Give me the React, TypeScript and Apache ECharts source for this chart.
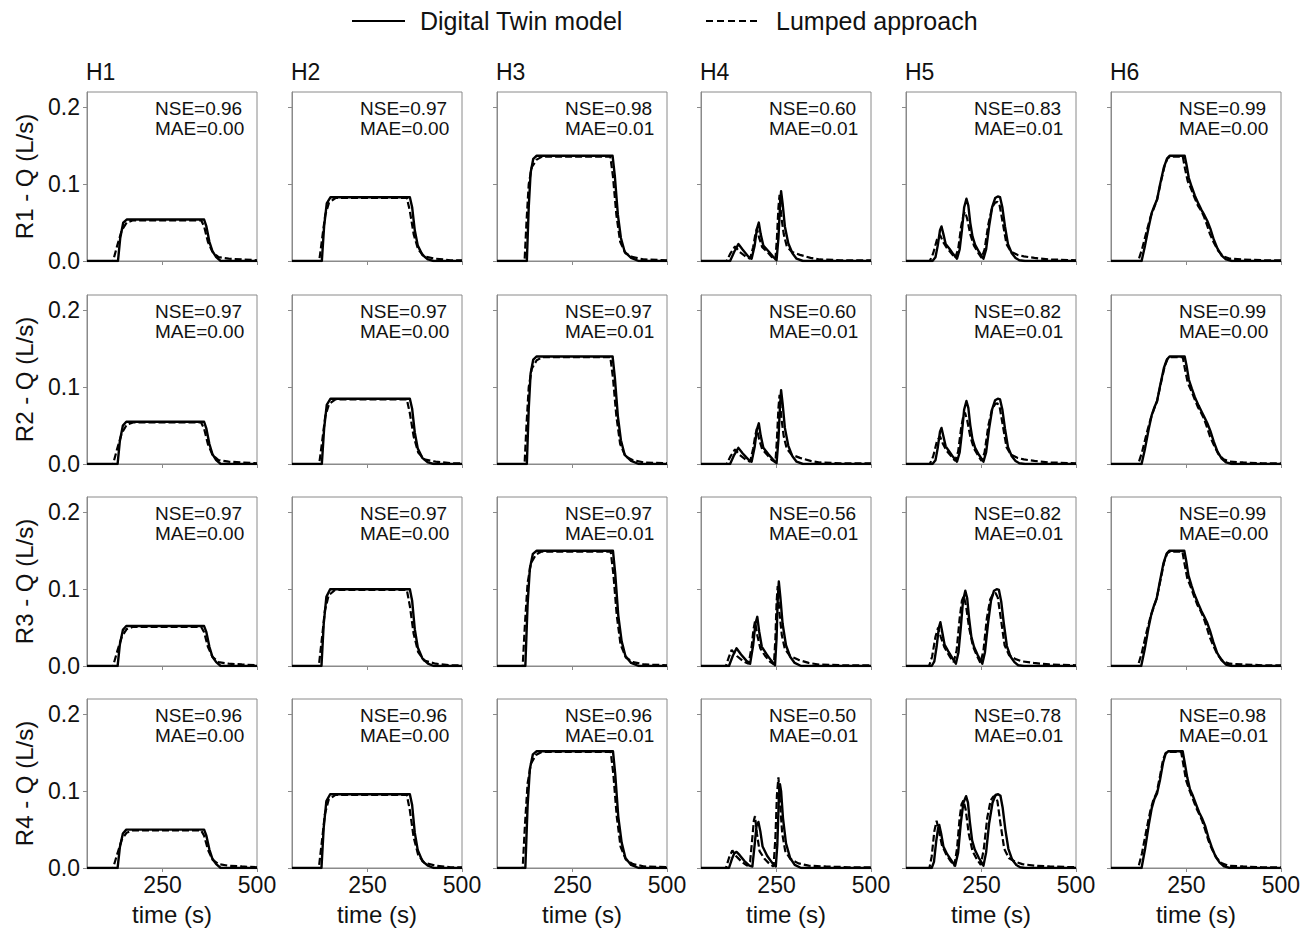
import React, { useEffect, useRef } from "react";
import * as echarts from "echarts";

// ---------------- DATA ----------------
const columnTitles = ["H1", "H2", "H3", "H4", "H5", "H6"];
const rowLabels = ["R1 - Q (L/s)", "R2 - Q (L/s)", "R3 - Q (L/s)", "R4 - Q (L/s)"];
const xTickValues = [250, 500];
const yTickValues = [0, 0.1, 0.2];
const legendNames = ["Digital Twin model", "Lumped approach"];

const nseR1 = [0.96, 0.97, 0.98, 0.6, 0.83, 0.99];
const maeR1 = [0.0, 0.0, 0.01, 0.01, 0.01, 0.0];
const nseR2 = [0.97, 0.97, 0.97, 0.6, 0.82, 0.99];
const maeR2 = [0.0, 0.0, 0.01, 0.01, 0.01, 0.0];
const nseR3 = [0.97, 0.97, 0.97, 0.56, 0.82, 0.99];
const maeR3 = [0.0, 0.0, 0.01, 0.01, 0.01, 0.0];
const nseR4 = [0.96, 0.96, 0.96, 0.5, 0.78, 0.98];
const maeR4 = [0.0, 0.0, 0.01, 0.01, 0.01, 0.01];

// Row 1
const twin_R1_H1 = [[50,0],[132,0],[138,0.03],[146,0.05],[155,0.054],[360,0.054],[366,0.045],[374,0.025],[382,0.013],[392,0.005],[404,0],[500,0]];
const lump_R1_H1 = [[50,0],[119,0],[130,0.02],[142,0.04],[155,0.05],[172,0.053],[352,0.053],[360,0.045],[370,0.025],[382,0.012],[398,0.005],[425,0.003],[460,0.002],[500,0.001]];
const twin_R1_H2 = [[50,0],[129,0],[135,0.045],[142,0.075],[152,0.083],[362,0.083],[368,0.07],[375,0.04],[383,0.02],[395,0.008],[410,0.002],[425,0],[500,0]];
const lump_R1_H2 = [[50,0],[122,0],[130,0.03],[138,0.06],[148,0.076],[165,0.082],[354,0.082],[362,0.065],[372,0.035],[384,0.015],[400,0.006],[430,0.003],[470,0.001],[500,0.001]];
const twin_R1_H3 = [[50,0],[129,0],[134,0.07],[139,0.115],[146,0.133],[155,0.137],[356,0.137],[362,0.11],[370,0.06],[378,0.03],[388,0.012],[405,0.004],[425,0],[500,0]];
const lump_R1_H3 = [[50,0],[123,0],[128,0.05],[134,0.1],[142,0.122],[155,0.132],[170,0.136],[350,0.136],[357,0.11],[366,0.06],[376,0.025],[390,0.01],[410,0.005],[440,0.002],[500,0.001]];
const twin_R1_H4 = [[50,0],[127,0],[138,0.012],[149,0.022],[160,0.015],[175,0.006],[184,0.003],[192,0.02],[198,0.042],[203,0.05],[208,0.035],[215,0.02],[228,0.013],[240,0.006],[250,0.001],[255,0.03],[259,0.07],[262,0.091],[266,0.075],[272,0.045],[281,0.023],[292,0.01],[303,0.003],[320,0],[500,0]];
const lump_R1_H4 = [[50,0],[118,0],[128,0.01],[140,0.019],[152,0.012],[168,0.006],[180,0.003],[188,0.018],[194,0.035],[198,0.042],[204,0.03],[212,0.018],[225,0.012],[238,0.005],[247,0.002],[251,0.03],[255,0.07],[258,0.086],[262,0.06],[269,0.035],[277,0.019],[290,0.012],[312,0.008],[340,0.004],[365,0.002],[420,0.001],[500,0.001]];
const twin_R1_H5 = [[50,0],[120,0],[128,0.005],[134,0.02],[140,0.04],[144,0.045],[149,0.035],[155,0.022],[165,0.016],[175,0.009],[185,0.003],[192,0.015],[198,0.04],[204,0.07],[210,0.081],[215,0.072],[220,0.05],[226,0.032],[233,0.021],[243,0.012],[255,0.003],[262,0.015],[270,0.045],[278,0.07],[286,0.082],[293,0.084],[299,0.083],[305,0.07],[312,0.045],[320,0.022],[330,0.01],[340,0.004],[350,0.001],[365,0],[500,0]];
const lump_R1_H5 = [[50,0],[113,0],[122,0.01],[132,0.028],[140,0.034],[148,0.025],[158,0.017],[170,0.01],[180,0.004],[188,0.015],[196,0.045],[202,0.06],[206,0.064],[212,0.055],[220,0.035],[230,0.02],[242,0.01],[250,0.004],[258,0.015],[268,0.048],[278,0.07],[286,0.076],[292,0.077],[298,0.072],[306,0.05],[316,0.022],[328,0.012],[345,0.008],[362,0.006],[390,0.004],[430,0.002],[500,0.001]];
const twin_R1_H6 = [[50,0],[131,0],[140,0.02],[150,0.045],[158,0.063],[165,0.072],[172,0.08],[180,0.1],[190,0.122],[198,0.133],[205,0.137],[245,0.137],[250,0.125],[256,0.108],[264,0.096],[272,0.085],[282,0.074],[290,0.066],[297,0.06],[305,0.052],[313,0.042],[322,0.028],[332,0.016],[343,0.007],[355,0.002],[370,0],[500,0]];
const lump_R1_H6 = [[50,0],[122,0],[132,0.015],[145,0.04],[155,0.058],[163,0.068],[172,0.08],[182,0.103],[192,0.124],[200,0.134],[208,0.136],[240,0.136],[246,0.12],[253,0.104],[262,0.094],[270,0.084],[280,0.072],[288,0.066],[296,0.058],[304,0.047],[312,0.035],[322,0.024],[334,0.013],[348,0.006],[365,0.003],[400,0.002],[450,0.001],[500,0.001]];

// Row 2
const twin_R2_H1 = [[50,0],[131,0],[137,0.03],[145,0.05],[154,0.055],[360,0.055],[366,0.046],[374,0.026],[382,0.013],[392,0.005],[404,0],[500,0]];
const lump_R2_H1 = [[50,0],[119,0],[130,0.02],[142,0.04],[155,0.051],[172,0.054],[352,0.054],[360,0.046],[370,0.026],[382,0.012],[398,0.005],[425,0.003],[460,0.002],[500,0.001]];
const twin_R2_H2 = [[50,0],[129,0],[135,0.046],[142,0.077],[152,0.085],[362,0.085],[368,0.072],[375,0.041],[383,0.02],[395,0.008],[410,0.002],[425,0],[500,0]];
const lump_R2_H2 = [[50,0],[122,0],[130,0.03],[138,0.062],[148,0.078],[165,0.084],[354,0.084],[362,0.066],[372,0.036],[384,0.015],[400,0.006],[430,0.003],[470,0.001],[500,0.001]];
const twin_R2_H3 = [[50,0],[129,0],[134,0.072],[139,0.118],[146,0.136],[155,0.14],[356,0.14],[362,0.112],[370,0.062],[378,0.031],[388,0.012],[405,0.004],[425,0],[500,0]];
const lump_R2_H3 = [[50,0],[123,0],[128,0.05],[134,0.1],[142,0.124],[155,0.135],[170,0.139],[350,0.139],[357,0.112],[366,0.062],[376,0.026],[390,0.01],[410,0.005],[440,0.002],[500,0.001]];
const twin_R2_H4 = [[50,0],[127,0],[138,0.012],[149,0.021],[160,0.014],[175,0.006],[184,0.003],[192,0.022],[198,0.045],[203,0.053],[208,0.037],[215,0.021],[228,0.013],[240,0.006],[250,0.001],[255,0.032],[259,0.074],[262,0.096],[266,0.079],[272,0.047],[281,0.024],[292,0.01],[303,0.003],[320,0],[500,0]];
const lump_R2_H4 = [[50,0],[118,0],[128,0.01],[140,0.019],[152,0.012],[168,0.006],[180,0.003],[188,0.02],[194,0.038],[198,0.046],[204,0.032],[212,0.019],[225,0.012],[238,0.005],[247,0.002],[251,0.032],[255,0.073],[258,0.09],[262,0.063],[269,0.036],[277,0.02],[290,0.012],[312,0.008],[340,0.004],[365,0.002],[420,0.001],[500,0.001]];
const twin_R2_H5 = [[50,0],[120,0],[128,0.005],[134,0.021],[140,0.042],[144,0.047],[149,0.036],[155,0.023],[165,0.016],[175,0.009],[185,0.003],[192,0.015],[198,0.041],[204,0.071],[210,0.082],[215,0.073],[220,0.051],[226,0.032],[233,0.021],[243,0.012],[255,0.003],[262,0.015],[270,0.046],[278,0.071],[286,0.083],[293,0.085],[299,0.084],[305,0.071],[312,0.046],[320,0.022],[330,0.01],[340,0.004],[350,0.001],[365,0],[500,0]];
const lump_R2_H5 = [[50,0],[113,0],[122,0.01],[132,0.03],[140,0.036],[148,0.026],[158,0.017],[170,0.01],[180,0.004],[188,0.016],[196,0.047],[202,0.063],[206,0.067],[212,0.057],[220,0.036],[230,0.02],[242,0.01],[250,0.004],[258,0.015],[268,0.05],[278,0.072],[286,0.078],[292,0.079],[298,0.074],[306,0.051],[316,0.022],[328,0.012],[345,0.008],[362,0.006],[390,0.004],[430,0.002],[500,0.001]];
const twin_R2_H6 = [[50,0],[131,0],[140,0.02],[150,0.046],[158,0.064],[165,0.074],[172,0.082],[180,0.102],[190,0.125],[198,0.136],[205,0.14],[245,0.14],[250,0.128],[256,0.11],[264,0.098],[272,0.087],[282,0.076],[290,0.068],[297,0.061],[305,0.053],[313,0.043],[322,0.029],[332,0.016],[343,0.007],[355,0.002],[370,0],[500,0]];
const lump_R2_H6 = [[50,0],[122,0],[132,0.015],[145,0.041],[155,0.059],[163,0.07],[172,0.082],[182,0.105],[192,0.127],[200,0.137],[208,0.139],[240,0.139],[246,0.123],[253,0.106],[262,0.096],[270,0.086],[280,0.074],[288,0.067],[296,0.059],[304,0.048],[312,0.036],[322,0.025],[334,0.013],[348,0.006],[365,0.003],[400,0.002],[450,0.001],[500,0.001]];

// Row 3
const twin_R3_H1 = [[50,0],[131,0],[137,0.028],[145,0.047],[154,0.052],[360,0.052],[366,0.044],[374,0.025],[382,0.012],[392,0.005],[404,0],[500,0]];
const lump_R3_H1 = [[50,0],[119,0],[130,0.019],[142,0.038],[155,0.048],[172,0.051],[352,0.051],[360,0.044],[370,0.025],[382,0.012],[398,0.005],[425,0.003],[460,0.002],[500,0.001]];
const twin_R3_H2 = [[50,0],[128,0],[134,0.055],[141,0.09],[151,0.1],[362,0.1],[368,0.085],[375,0.048],[383,0.024],[395,0.01],[410,0.003],[425,0],[500,0]];
const lump_R3_H2 = [[50,0],[121,0],[129,0.035],[137,0.072],[147,0.092],[164,0.099],[354,0.099],[362,0.078],[372,0.042],[384,0.018],[400,0.007],[430,0.003],[470,0.001],[500,0.001]];
const twin_R3_H3 = [[50,0],[125,0],[131,0.08],[137,0.127],[145,0.146],[155,0.15],[357,0.15],[363,0.12],[371,0.066],[380,0.032],[390,0.013],[405,0.004],[425,0],[500,0]];
const lump_R3_H3 = [[50,0],[118,0],[124,0.055],[131,0.108],[140,0.134],[153,0.145],[168,0.149],[351,0.149],[358,0.12],[367,0.066],[377,0.028],[391,0.011],[410,0.005],[440,0.002],[500,0.001]];
const twin_R3_H4 = [[50,0],[124,0],[134,0.013],[144,0.023],[156,0.015],[170,0.007],[180,0.003],[188,0.027],[194,0.055],[199,0.064],[204,0.045],[211,0.025],[224,0.015],[236,0.007],[246,0.001],[250,0.036],[253,0.085],[256,0.11],[260,0.09],[266,0.055],[275,0.027],[286,0.012],[298,0.004],[315,0],[500,0]];
const lump_R3_H4 = [[50,0],[116,0],[124,0.012],[131,0.021],[145,0.013],[162,0.006],[176,0.003],[184,0.025],[189,0.048],[193,0.058],[199,0.04],[207,0.023],[220,0.013],[234,0.005],[243,0.002],[247,0.036],[250,0.082],[253,0.104],[257,0.072],[264,0.04],[272,0.022],[286,0.013],[308,0.008],[335,0.004],[362,0.002],[420,0.001],[500,0.001]];
const twin_R3_H5 = [[50,0],[118,0],[125,0.006],[131,0.025],[137,0.05],[141,0.057],[146,0.044],[152,0.028],[162,0.019],[172,0.011],[182,0.003],[189,0.018],[195,0.05],[201,0.085],[207,0.098],[212,0.088],[217,0.062],[223,0.038],[230,0.025],[240,0.014],[252,0.003],[259,0.018],[267,0.055],[275,0.085],[283,0.098],[290,0.1],[296,0.099],[302,0.084],[309,0.055],[317,0.026],[327,0.012],[337,0.005],[347,0.001],[362,0],[500,0]];
const lump_R3_H5 = [[50,0],[111,0],[119,0.012],[128,0.038],[135,0.05],[142,0.038],[152,0.024],[165,0.013],[176,0.005],[184,0.02],[192,0.062],[198,0.085],[203,0.091],[209,0.078],[217,0.05],[227,0.026],[239,0.012],[247,0.004],[255,0.02],[264,0.062],[273,0.087],[281,0.094],[287,0.095],[293,0.089],[301,0.062],[311,0.027],[323,0.014],[340,0.009],[358,0.006],[388,0.004],[430,0.002],[500,0.001]];
const twin_R3_H6 = [[50,0],[130,0],[139,0.021],[149,0.049],[157,0.068],[164,0.079],[171,0.088],[179,0.109],[189,0.134],[197,0.146],[204,0.15],[244,0.15],[249,0.137],[255,0.118],[263,0.105],[271,0.093],[281,0.081],[289,0.072],[296,0.065],[304,0.057],[312,0.046],[321,0.031],[331,0.017],[342,0.008],[354,0.002],[370,0],[500,0]];
const lump_R3_H6 = [[50,0],[121,0],[131,0.016],[144,0.044],[154,0.063],[162,0.075],[171,0.088],[181,0.112],[191,0.136],[199,0.147],[207,0.149],[239,0.149],[245,0.132],[252,0.114],[261,0.103],[269,0.092],[279,0.079],[287,0.072],[295,0.063],[303,0.051],[311,0.038],[321,0.026],[333,0.014],[347,0.006],[365,0.003],[400,0.002],[450,0.001],[500,0.001]];

// Row 4
const twin_R4_H1 = [[50,0],[131,0],[137,0.027],[145,0.045],[154,0.05],[360,0.05],[366,0.042],[374,0.024],[382,0.012],[392,0.005],[404,0],[500,0]];
const lump_R4_H1 = [[50,0],[119,0],[130,0.018],[142,0.037],[155,0.046],[172,0.049],[352,0.049],[360,0.042],[370,0.024],[382,0.011],[398,0.005],[425,0.003],[460,0.002],[500,0.001]];
const twin_R4_H2 = [[50,0],[128,0],[134,0.053],[141,0.087],[151,0.096],[362,0.096],[368,0.082],[375,0.046],[383,0.023],[395,0.009],[410,0.003],[425,0],[500,0]];
const lump_R4_H2 = [[50,0],[121,0],[129,0.034],[137,0.07],[147,0.089],[164,0.095],[354,0.095],[362,0.075],[372,0.04],[384,0.017],[400,0.007],[430,0.003],[470,0.001],[500,0.001]];
const twin_R4_H3 = [[50,0],[125,0],[131,0.081],[137,0.129],[145,0.148],[155,0.152],[357,0.152],[363,0.122],[371,0.067],[380,0.033],[390,0.013],[405,0.004],[425,0],[500,0]];
const lump_R4_H3 = [[50,0],[118,0],[124,0.056],[131,0.11],[140,0.136],[153,0.147],[168,0.151],[351,0.151],[358,0.122],[367,0.067],[377,0.028],[391,0.011],[410,0.005],[440,0.002],[500,0.001]];
const twin_R4_H4 = [[50,0],[124,0],[132,0.012],[138,0.019],[144,0.021],[152,0.017],[165,0.009],[178,0.003],[186,0.002],[192,0.03],[197,0.055],[202,0.06],[207,0.048],[213,0.028],[225,0.016],[238,0.007],[248,0.002],[252,0.03],[256,0.09],[259,0.109],[262,0.1],[267,0.065],[275,0.032],[286,0.013],[298,0.004],[315,0],[500,0]];
const lump_R4_H4 = [[50,0],[116,0],[124,0.013],[133,0.023],[142,0.016],[158,0.008],[172,0.003],[180,0.008],[186,0.04],[190,0.062],[193,0.0675],[198,0.045],[205,0.022],[218,0.012],[232,0.005],[242,0.002],[247,0.04],[251,0.095],[255,0.118],[259,0.085],[265,0.045],[273,0.022],[286,0.012],[308,0.006],[335,0.003],[380,0.002],[440,0.001],[500,0.001]];
const twin_R4_H5 = [[50,0],[118,0],[124,0.008],[130,0.035],[135,0.052],[138,0.056],[143,0.045],[149,0.028],[159,0.018],[170,0.01],[180,0.003],[188,0.02],[195,0.058],[202,0.085],[209,0.0935],[214,0.085],[219,0.06],[225,0.036],[232,0.024],[243,0.013],[255,0.003],[262,0.02],[270,0.058],[279,0.085],[287,0.095],[294,0.096],[300,0.094],[306,0.078],[313,0.05],[321,0.025],[331,0.011],[342,0.004],[352,0.001],[365,0],[500,0]];
const lump_R4_H5 = [[50,0],[112,0],[118,0.015],[125,0.048],[131,0.0615],[137,0.048],[145,0.03],[156,0.018],[168,0.009],[178,0.003],[185,0.025],[192,0.065],[197,0.083],[202,0.088],[208,0.076],[216,0.045],[226,0.022],[238,0.011],[248,0.004],[256,0.025],[265,0.065],[274,0.088],[281,0.093],[286,0.0935],[292,0.087],[300,0.058],[310,0.025],[322,0.013],[340,0.008],[358,0.005],[390,0.003],[430,0.002],[500,0.001]];
const twin_R4_H6 = [[50,0],[131,0],[140,0.024],[150,0.056],[158,0.078],[165,0.09],[172,0.097],[180,0.115],[188,0.137],[195,0.149],[202,0.152],[240,0.152],[245,0.138],[252,0.118],[259,0.103],[267,0.094],[276,0.082],[284,0.072],[292,0.064],[300,0.054],[308,0.04],[317,0.027],[327,0.015],[338,0.007],[350,0.002],[365,0],[500,0]];
const lump_R4_H6 = [[50,0],[122,0],[132,0.019],[144,0.05],[154,0.074],[162,0.088],[171,0.098],[180,0.12],[188,0.141],[195,0.15],[203,0.151],[236,0.151],[242,0.134],[249,0.114],[258,0.101],[266,0.091],[276,0.078],[284,0.07],[292,0.061],[300,0.049],[308,0.036],[318,0.024],[330,0.013],[344,0.006],[360,0.003],[400,0.002],[450,0.001],[500,0.001]];

const twinRows = [
  [twin_R1_H1, twin_R1_H2, twin_R1_H3, twin_R1_H4, twin_R1_H5, twin_R1_H6],
  [twin_R2_H1, twin_R2_H2, twin_R2_H3, twin_R2_H4, twin_R2_H5, twin_R2_H6],
  [twin_R3_H1, twin_R3_H2, twin_R3_H3, twin_R3_H4, twin_R3_H5, twin_R3_H6],
  [twin_R4_H1, twin_R4_H2, twin_R4_H3, twin_R4_H4, twin_R4_H5, twin_R4_H6],
];
const lumpRows = [
  [lump_R1_H1, lump_R1_H2, lump_R1_H3, lump_R1_H4, lump_R1_H5, lump_R1_H6],
  [lump_R2_H1, lump_R2_H2, lump_R2_H3, lump_R2_H4, lump_R2_H5, lump_R2_H6],
  [lump_R3_H1, lump_R3_H2, lump_R3_H3, lump_R3_H4, lump_R3_H5, lump_R3_H6],
  [lump_R4_H1, lump_R4_H2, lump_R4_H3, lump_R4_H4, lump_R4_H5, lump_R4_H6],
];
const nseRows = [nseR1, nseR2, nseR3, nseR4];
const maeRows = [maeR1, maeR2, maeR3, maeR4];

// ---------------- LAYOUT / STYLE ----------------
const GRID_LEFTS = [87, 292, 497, 701, 906, 1111];
const GRID_TOPS = [92, 295, 497, 699];
const GRID_W = 170;
const GRID_H = 169;
const FONT = '"Liberation Sans", Arial, Helvetica, sans-serif';
const TEXT = "#111111";
const FRAME = "#8a8a8a";

function buildOption() {
  const grid: any[] = [];
  const xAxis: any[] = [];
  const yAxis: any[] = [];
  const series: any[] = [];
  const graphic: any[] = [];
  const title: any[] = [];

  columnTitles.forEach((t, c) => {
    title.push({
      text: t,
      left: GRID_LEFTS[c] - 1,
      top: 60,
      padding: 0,
      textStyle: { fontFamily: FONT, fontSize: 23, fontWeight: "normal", color: TEXT },
    });
  });

  for (let r = 0; r < 4; r++) {
    for (let c = 0; c < 6; c++) {
      const idx = r * 6 + c;
      grid.push({
        left: GRID_LEFTS[c],
        top: GRID_TOPS[r],
        width: GRID_W,
        height: GRID_H,
        show: true,
        borderColor: FRAME,
        borderWidth: 1,
        backgroundColor: "transparent",
      });
      xAxis.push({
        gridIndex: idx,
        type: "value",
        min: 50,
        max: 500,
        axisLine: { show: true, onZero: false, lineStyle: { color: FRAME, width: 1 } },
        axisTick: { show: true, length: 4, customValues: xTickValues, lineStyle: { color: FRAME } },
        axisLabel: {
          show: r === 3,
          customValues: xTickValues,
          margin: 5,
          fontFamily: FONT,
          fontSize: 23,
          color: TEXT,
          hideOverlap: false,
        },
        splitLine: { show: false },
        name: r === 3 ? "time (s)" : "",
        nameLocation: "middle",
        nameGap: 34,
        nameTextStyle: { fontFamily: FONT, fontSize: 24, color: TEXT },
      });
      yAxis.push({
        gridIndex: idx,
        type: "value",
        min: 0,
        max: 0.22,
        axisLine: { show: true, onZero: false, lineStyle: { color: FRAME, width: 1 } },
        axisTick: { show: true, length: 4, customValues: yTickValues, lineStyle: { color: FRAME } },
        axisLabel: {
          show: c === 0,
          customValues: yTickValues,
          margin: 7,
          fontFamily: FONT,
          fontSize: 23,
          color: TEXT,
          formatter: (v: number) => v.toFixed(1),
        },
        splitLine: { show: false },
        name: c === 0 ? rowLabels[r] : "",
        nameLocation: "middle",
        nameGap: 51,
        nameRotate: 90,
        nameTextStyle: { fontFamily: FONT, fontSize: 24, color: TEXT },
      });
      series.push({
        name: legendNames[0],
        type: "line",
        xAxisIndex: idx,
        yAxisIndex: idx,
        data: twinRows[r][c],
        symbol: "none",
        showSymbol: false,
        smooth: false,
        lineStyle: { color: "#000", width: 2.4, type: "solid", join: "round" },
        z: 2,
      });
      series.push({
        name: legendNames[1],
        type: "line",
        xAxisIndex: idx,
        yAxisIndex: idx,
        data: lumpRows[r][c],
        symbol: "none",
        showSymbol: false,
        smooth: false,
        lineStyle: { color: "#000", width: 2.2, type: [7, 3] },
        z: 3,
      });
      graphic.push({
        type: "text",
        x: GRID_LEFTS[c] + 68,
        y: GRID_TOPS[r] + 6,
        style: {
          text: `NSE=${nseRows[r][c].toFixed(2)}\nMAE=${maeRows[r][c].toFixed(2)}`,
          fontFamily: FONT,
          fontSize: 19,
          lineHeight: 20,
          fill: TEXT,
          textAlign: "left",
          textVerticalAlign: "top",
        },
      });
    }
  }

  // legend (drawn)
  graphic.push(
    { type: "line", shape: { x1: 352, y1: 21, x2: 405, y2: 21 }, style: { stroke: "#000", lineWidth: 2 } },
    {
      type: "text",
      x: 420,
      y: 21,
      style: { text: legendNames[0], fontFamily: FONT, fontSize: 25, fill: TEXT, textVerticalAlign: "middle" },
    },
    { type: "line", shape: { x1: 706, y1: 21, x2: 757, y2: 21 }, style: { stroke: "#000", lineWidth: 2, lineDash: [7, 4] } },
    {
      type: "text",
      x: 776,
      y: 21,
      style: { text: legendNames[1], fontFamily: FONT, fontSize: 25, fill: TEXT, textVerticalAlign: "middle" },
    }
  );

  return {
    animation: false,
    backgroundColor: "#ffffff",
    textStyle: { fontFamily: FONT },
    title,
    grid,
    xAxis,
    yAxis,
    series,
    graphic,
  };
}

export default function App() {
  const ref = useRef<HTMLDivElement>(null);
  useEffect(() => {
    if (!ref.current) return;
    const chart = echarts.init(ref.current, null, { renderer: "svg" });
    chart.setOption(buildOption() as any);
    return () => chart.dispose();
  }, []);
  return (
    <div
      ref={ref}
      style={{ position: "fixed", left: 0, top: 0, width: 1303, height: 929, background: "#fff" }}
    />
  );
}
